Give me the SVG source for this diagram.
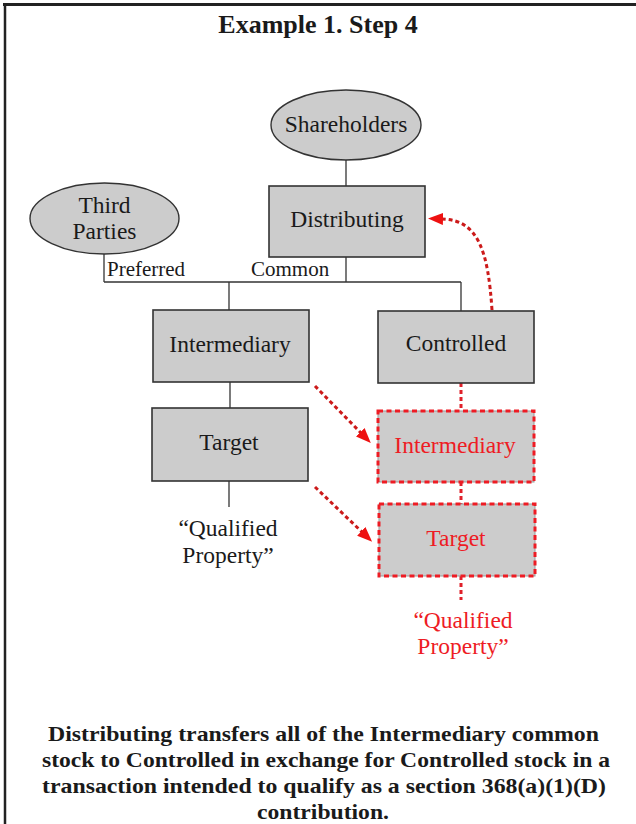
<svg xmlns="http://www.w3.org/2000/svg" width="636" height="824" viewBox="0 0 636 824">
  <style>
    .frame { stroke: #222; fill: none; }
    .box { fill: #cccccc; stroke: #333; stroke-width: 1.6; }
    .oval { fill: #cccccc; stroke: #333; stroke-width: 1.4; }
    .redbox { fill: #cccccc; stroke: #999; stroke-width: 1; }
    .rededge { fill: none; stroke: #ee1c24; stroke-width: 3; stroke-dasharray: 5 3.5; }
    .label { font-family: "Liberation Serif", "Times New Roman", serif; font-size: 23.5px; fill: #1a1a1a; text-anchor: middle; }
    .redlabel { fill: #ee1c24; }
    .small { font-family: "Liberation Serif", "Times New Roman", serif; font-size: 21px; fill: #1a1a1a; }
    .title { font-family: "Liberation Serif", "Times New Roman", serif; font-size: 26px; font-weight: bold; fill: #1a1a1a; text-anchor: middle; }
    .caption { font-family: "Liberation Serif", "Times New Roman", serif; font-size: 22px; font-weight: bold; fill: #1a1a1a; text-anchor: middle; }
    .tie { stroke: #333; stroke-width: 1.3; fill: none; }
    .move { stroke: #cc1a1a; stroke-width: 3; fill: none; stroke-dasharray: 4 3; }
    .chain { stroke: #e0202a; stroke-width: 3; fill: none; stroke-dasharray: 4 3; }
  </style>
  <defs>
    <marker id="head" viewBox="0 0 15 12" refX="1" refY="6" markerWidth="15" markerHeight="12" markerUnits="userSpaceOnUse" orient="auto">
      <path d="M0,0 L15,6 L0,12 z" fill="#ee1111"/>
    </marker>
  </defs>

  <!-- page frame -->
  <line class="frame" x1="3" y1="4.5" x2="636" y2="4.5" stroke-width="3"/>
  <line class="frame" x1="5" y1="3" x2="5" y2="824" stroke-width="2.5"/>

  <text class="title" x="318" y="33">Example 1. Step 4</text>

  <!-- ownership connectors -->
  <g id="connectors">
    <line class="tie" x1="346" y1="160" x2="346" y2="186"/>
    <line class="tie" x1="346" y1="257" x2="346" y2="282"/>
    <line class="tie" x1="104" y1="254" x2="104" y2="282"/>
    <line class="tie" x1="104" y1="282" x2="461" y2="282"/>
    <line class="tie" x1="229" y1="282" x2="229" y2="310"/>
    <line class="tie" x1="461" y1="282" x2="461" y2="311"/>
    <line class="tie" x1="230" y1="382" x2="230" y2="408"/>
    <line class="tie" x1="229" y1="481" x2="229" y2="507"/>
    <text class="small" x="107" y="276">Preferred</text>
    <text class="small" x="251" y="276">Common</text>

    <line class="chain" x1="461" y1="383" x2="461" y2="411"/>
    <line class="chain" x1="461" y1="482" x2="461" y2="504"/>
    <line class="chain" x1="461" y1="576" x2="461" y2="600"/>

    <line class="move" x1="315" y1="386" x2="361" y2="433" marker-end="url(#head)"/>
    <line class="move" x1="315" y1="487" x2="362" y2="532" marker-end="url(#head)"/>
    <path class="move" d="M492,310 C488,250 478,220 442,219" marker-end="url(#head)"/>
  </g>

  <g id="shareholders">
    <ellipse class="oval" cx="346" cy="125" rx="75" ry="35"/>
    <text class="label" x="346" y="132">Shareholders</text>
  </g>

  <g id="third-parties">
    <ellipse class="oval" cx="104.5" cy="218.5" rx="74.5" ry="35.5"/>
    <text class="label" x="104.5" y="213">Third</text>
    <text class="label" x="104.5" y="239">Parties</text>
  </g>

  <g id="distributing">
    <rect class="box" x="269" y="186" width="156" height="71"/>
    <text class="label" x="347" y="227">Distributing</text>
  </g>

  <g id="intermediary">
    <rect class="box" x="153" y="310" width="156" height="72"/>
    <text class="label" x="230" y="352">Intermediary</text>
  </g>

  <g id="controlled">
    <rect class="box" x="378" y="311" width="156" height="72"/>
    <text class="label" x="456" y="351">Controlled</text>
  </g>

  <g id="target">
    <rect class="box" x="152" y="408" width="156" height="73"/>
    <text class="label" x="229" y="450">Target</text>
  </g>

  <g id="qualified-property">
    <text class="label" x="228" y="536">“Qualified</text>
    <text class="label" x="228" y="563">Property”</text>
  </g>

  <g id="intermediary-new">
    <rect class="redbox" x="378" y="411" width="156" height="71"/>
    <rect class="rededge" x="378" y="411" width="156" height="71"/>
    <text class="label redlabel" x="455" y="453">Intermediary</text>
  </g>

  <g id="target-new">
    <rect class="redbox" x="379" y="504" width="156" height="72"/>
    <rect class="rededge" x="379" y="504" width="156" height="72"/>
    <text class="label redlabel" x="456" y="546">Target</text>
  </g>

  <g id="qualified-property-new">
    <text class="label redlabel" x="463" y="628">“Qualified</text>
    <text class="label redlabel" x="463" y="654">Property”</text>
  </g>

  <g id="caption">
    <text class="caption" x="323.5" y="741" textLength="551" lengthAdjust="spacingAndGlyphs">Distributing transfers all of the Intermediary common</text>
    <text class="caption" x="326" y="767" textLength="568" lengthAdjust="spacingAndGlyphs">stock to Controlled in exchange for Controlled stock in a</text>
    <text class="caption" x="324" y="793" textLength="564" lengthAdjust="spacingAndGlyphs">transaction intended to qualify as a section 368(a)(1)(D)</text>
    <text class="caption" x="323" y="819" textLength="132" lengthAdjust="spacingAndGlyphs">contribution.</text>
  </g>
</svg>
